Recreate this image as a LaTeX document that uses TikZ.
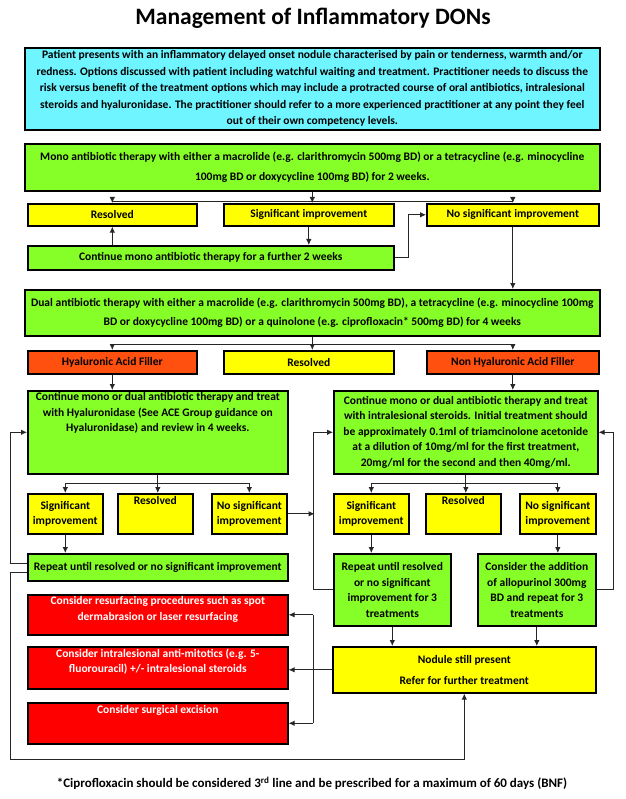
\documentclass[tikz,border=0pt]{standalone}
\usepackage{fontspec}
\setmainfont{Carlito}
\usetikzlibrary{arrows.meta}
\definecolor{boxcyan}{RGB}{110,245,255}
\definecolor{boxgreen}{RGB}{134,255,40}
\definecolor{boxyellow}{RGB}{255,255,0}
\definecolor{boxorange}{RGB}{255,80,16}
\definecolor{boxred}{RGB}{255,0,0}
\newcommand{\flowtext}[4][c]{\parbox[c][#3pt][#1]{#2pt}{\centering #4\par}}
\begin{document}
\begin{tikzpicture}[x=1pt,y=-1pt,
	box/.style={draw=black, line width=1.6pt, anchor=north west, inner sep=0pt, font=\bfseries\fontsize{11.5}{15.5}\selectfont},
	cyanbox/.style={box, fill=boxcyan},
	greenbox/.style={box, fill=boxgreen},
	yellowbox/.style={box, fill=boxyellow},
	orangebox/.style={box, fill=boxorange},
	redbox/.style={box, fill=boxred, text=white},
	link/.style={line width=0.9pt, draw=black!85},
	arr/.style={link, -{Latex[length=6pt,width=5.5pt]}}]
	\useasboundingbox (0,0) rectangle (625,799);
	\node[font=\bfseries\fontsize{23.5}{28}\selectfont] (title) at (313,18) {Management of Inflammatory DONs};
	\node[cyanbox] (intro) at (24,47) {\flowtext{575}{82}{\fontsize{11.5}{16.5}\selectfont Patient presents with an inflammatory delayed onset nodule characterised by pain or tenderness, warmth and/or\\ redness. Options discussed with patient including watchful waiting and treatment. Practitioner needs to discuss the\\ risk versus benefit of the treatment options which may include a protracted course of oral antibiotics, intralesional\\ steroids and hyaluronidase. The practitioner should refer to a more experienced practitioner at any point they feel\\ out of their own competency levels.}};
	\node[greenbox] (mono) at (24,143) {\flowtext{575}{47}{Mono antibiotic therapy with either a macrolide (e.g. clarithromycin 500mg BD) or a tetracycline (e.g. minocycline\\[4pt] 100mg BD or doxycycline 100mg BD) for 2 weeks.}};
	\node[yellowbox] (res1) at (27,203) {\flowtext{169}{22}{Resolved}};
	\node[yellowbox] (sig1) at (223,203) {\flowtext{170}{22}{Significant improvement}};
	\node[yellowbox] (nosig1) at (426,203) {\flowtext{172}{22}{No significant improvement}};
	\node[greenbox] (cont) at (27,245) {\flowtext{366}{24}{Continue mono antibiotic therapy for a further 2 weeks}};
	\node[greenbox] (dual) at (24,289) {\flowtext{575}{46}{Dual antibiotic therapy with either a macrolide (e.g. clarithromycin 500mg BD), a tetracycline (e.g. minocycline 100mg\\[4pt] BD or doxycycline 100mg BD) or a quinolone (e.g. ciprofloxacin* 500mg BD) for 4 weeks}};
	\node[orangebox] (haf) at (27,350) {\flowtext{169}{23}{Hyaluronic Acid Filler}};
	\node[yellowbox] (res2) at (223,350) {\flowtext{170}{23}{Resolved}};
	\node[orangebox] (nhaf) at (426,350) {\flowtext{172}{23}{Non Hyaluronic Acid Filler}};
	\node[greenbox] (hyal) at (27,390) {\flowtext[t]{260}{83}{\vspace*{2pt}Continue mono or dual antibiotic therapy and treat\\ with Hyaluronidase (See ACE Group guidance on\\ Hyaluronidase) and review in 4 weeks.}};
	\node[greenbox] (ster) at (333,390) {\flowtext{264}{83}{Continue mono or dual antibiotic therapy and treat\\ with intralesional steroids. Initial treatment should\\ be approximately 0.1ml of triamcinolone acetonide\\ at a dilution of 10mg/ml for the first treatment,\\ 20mg/ml for the second and then 40mg/ml.}};
	\node[yellowbox] (lsig) at (27,493) {\flowtext{75}{40}{Significant\\ improvement}};
	\node[yellowbox] (lres) at (117,493) {\flowtext[t]{75}{40}{\vspace*{3pt}Resolved}};
	\node[yellowbox] (lnos) at (211,493) {\flowtext{75}{40}{No significant\\ improvement}};
	\node[greenbox] (lrep) at (27,553) {\flowtext{260}{27}{Repeat until resolved or no significant improvement}};
	\node[yellowbox] (rsig) at (333,493) {\flowtext{75}{40}{Significant\\ improvement}};
	\node[yellowbox] (rres) at (425,493) {\flowtext[t]{75}{40}{\vspace*{3pt}Resolved}};
	\node[yellowbox] (rnos) at (519,493) {\flowtext{76}{40}{No significant\\ improvement}};
	\node[greenbox] (rrep) at (333,553) {\flowtext{117}{72}{Repeat until resolved\\ or no significant\\ improvement for 3\\ treatments}};
	\node[greenbox] (allo) at (477,553) {\flowtext{118}{72}{Consider the addition\\ of allopurinol 300mg\\ BD and repeat for 3\\ treatments}};
	\node[yellowbox] (nod) at (332,646) {\flowtext{263}{46}{Nodule still present\\[5pt] Refer for further treatment}};
	\node[redbox] (resurf) at (27,594) {\flowtext[t]{260}{40}{\vspace*{2pt}Consider resurfacing procedures such as spot\\ dermabrasion or laser resurfacing}};
	\node[redbox] (mitot) at (27,646) {\flowtext[t]{260}{42}{\vspace*{2pt}Consider intralesional anti-mitotics (e.g. 5-\\ fluorouracil) +/- intralesional steroids}};
	\node[redbox] (excis) at (27,702) {\flowtext[t]{260}{41}{\vspace*{3pt}Consider surgical excision}};
	\node[font=\bfseries\fontsize{13}{15}\selectfont] (note) at (312,783) {*Ciprofloxacin should be considered 3\textsuperscript{rd} line and be prescribed for a maximum of 60 days (BNF)};
	\draw[link] (mono.south) -- ++(0,10) coordinate (j1);
	\draw[arr] (j1) -| (res1.north);
	\draw[arr] (j1) -| (nosig1.north);
	\draw[arr] (j1) -- (j1 |- sig1.north);
	\draw[arr] (sig1.south) -- (sig1.south |- cont.north);
	\draw[arr] (res1.south |- cont.north) -- (res1.south);
	\draw[arr] (cont.east) -- ++(14,0) |- (nosig1.west);
	\draw[arr] (nosig1.south) -- (nosig1.south |- dual.north);
	\draw[link] (dual.south) -- ++(0,8) coordinate (j2);
	\draw[arr] (j2) -| (haf.north);
	\draw[arr] (j2) -| (nhaf.north);
	\draw[arr] (j2) -- (j2 |- res2.north);
	\draw[arr] (haf.south) -- (haf.south |- hyal.north);
	\draw[arr] (nhaf.south) -- (nhaf.south |- ster.north);
	\draw[link] (hyal.south) -- ++(0,9) coordinate (j3);
	\draw[arr] (j3) -| (lsig.north);
	\draw[arr] (j3) -| (lnos.north);
	\draw[arr] (j3) -- (j3 |- lres.north);
	\draw[arr] (lsig.south) -- (lsig.south |- lrep.north);
	\draw[link] (ster.south) -- ++(0,9) coordinate (j4);
	\draw[arr] (j4) -| (rsig.north);
	\draw[arr] (j4) -| (rnos.north);
	\draw[arr] (j4) -- (j4 |- rres.north);
	\draw[arr] (rsig.south) -- (rsig.south |- rrep.north);
	\draw[arr] (rnos.south) -- (rnos.south |- allo.north);
	\draw[arr] (rrep.south) -- (rrep.south |- nod.north);
	\draw[arr] (allo.south) -- (allo.south |- nod.north);
	\draw[arr] ([yshift=4pt]lrep.west) -- ++(-17,0) |- (hyal.west);
	\draw[arr] ([yshift=-5pt]lrep.west) -- ++(-17,0) -- ++(0,187) -| (nod.south);
	\draw[arr] (rrep.west) -- ++(-20,0) |- (ster.west);
	\draw[arr] (lnos.east) -- ++(27,0);
	\draw[arr] (allo.east) -- ++(17,0) |- (ster.east);
	\draw[link] (nod.west) -- ++(-19,0) coordinate (j5);
	\draw[link] (j5 |- resurf.east) -- (j5 |- excis.east);
	\draw[arr] (j5 |- resurf.east) -- (resurf.east);
	\draw[arr] (j5) -- (j5 -| mitot.east);
	\draw[arr] (j5 |- excis.east) -- (excis.east);
\end{tikzpicture}
\end{document}
